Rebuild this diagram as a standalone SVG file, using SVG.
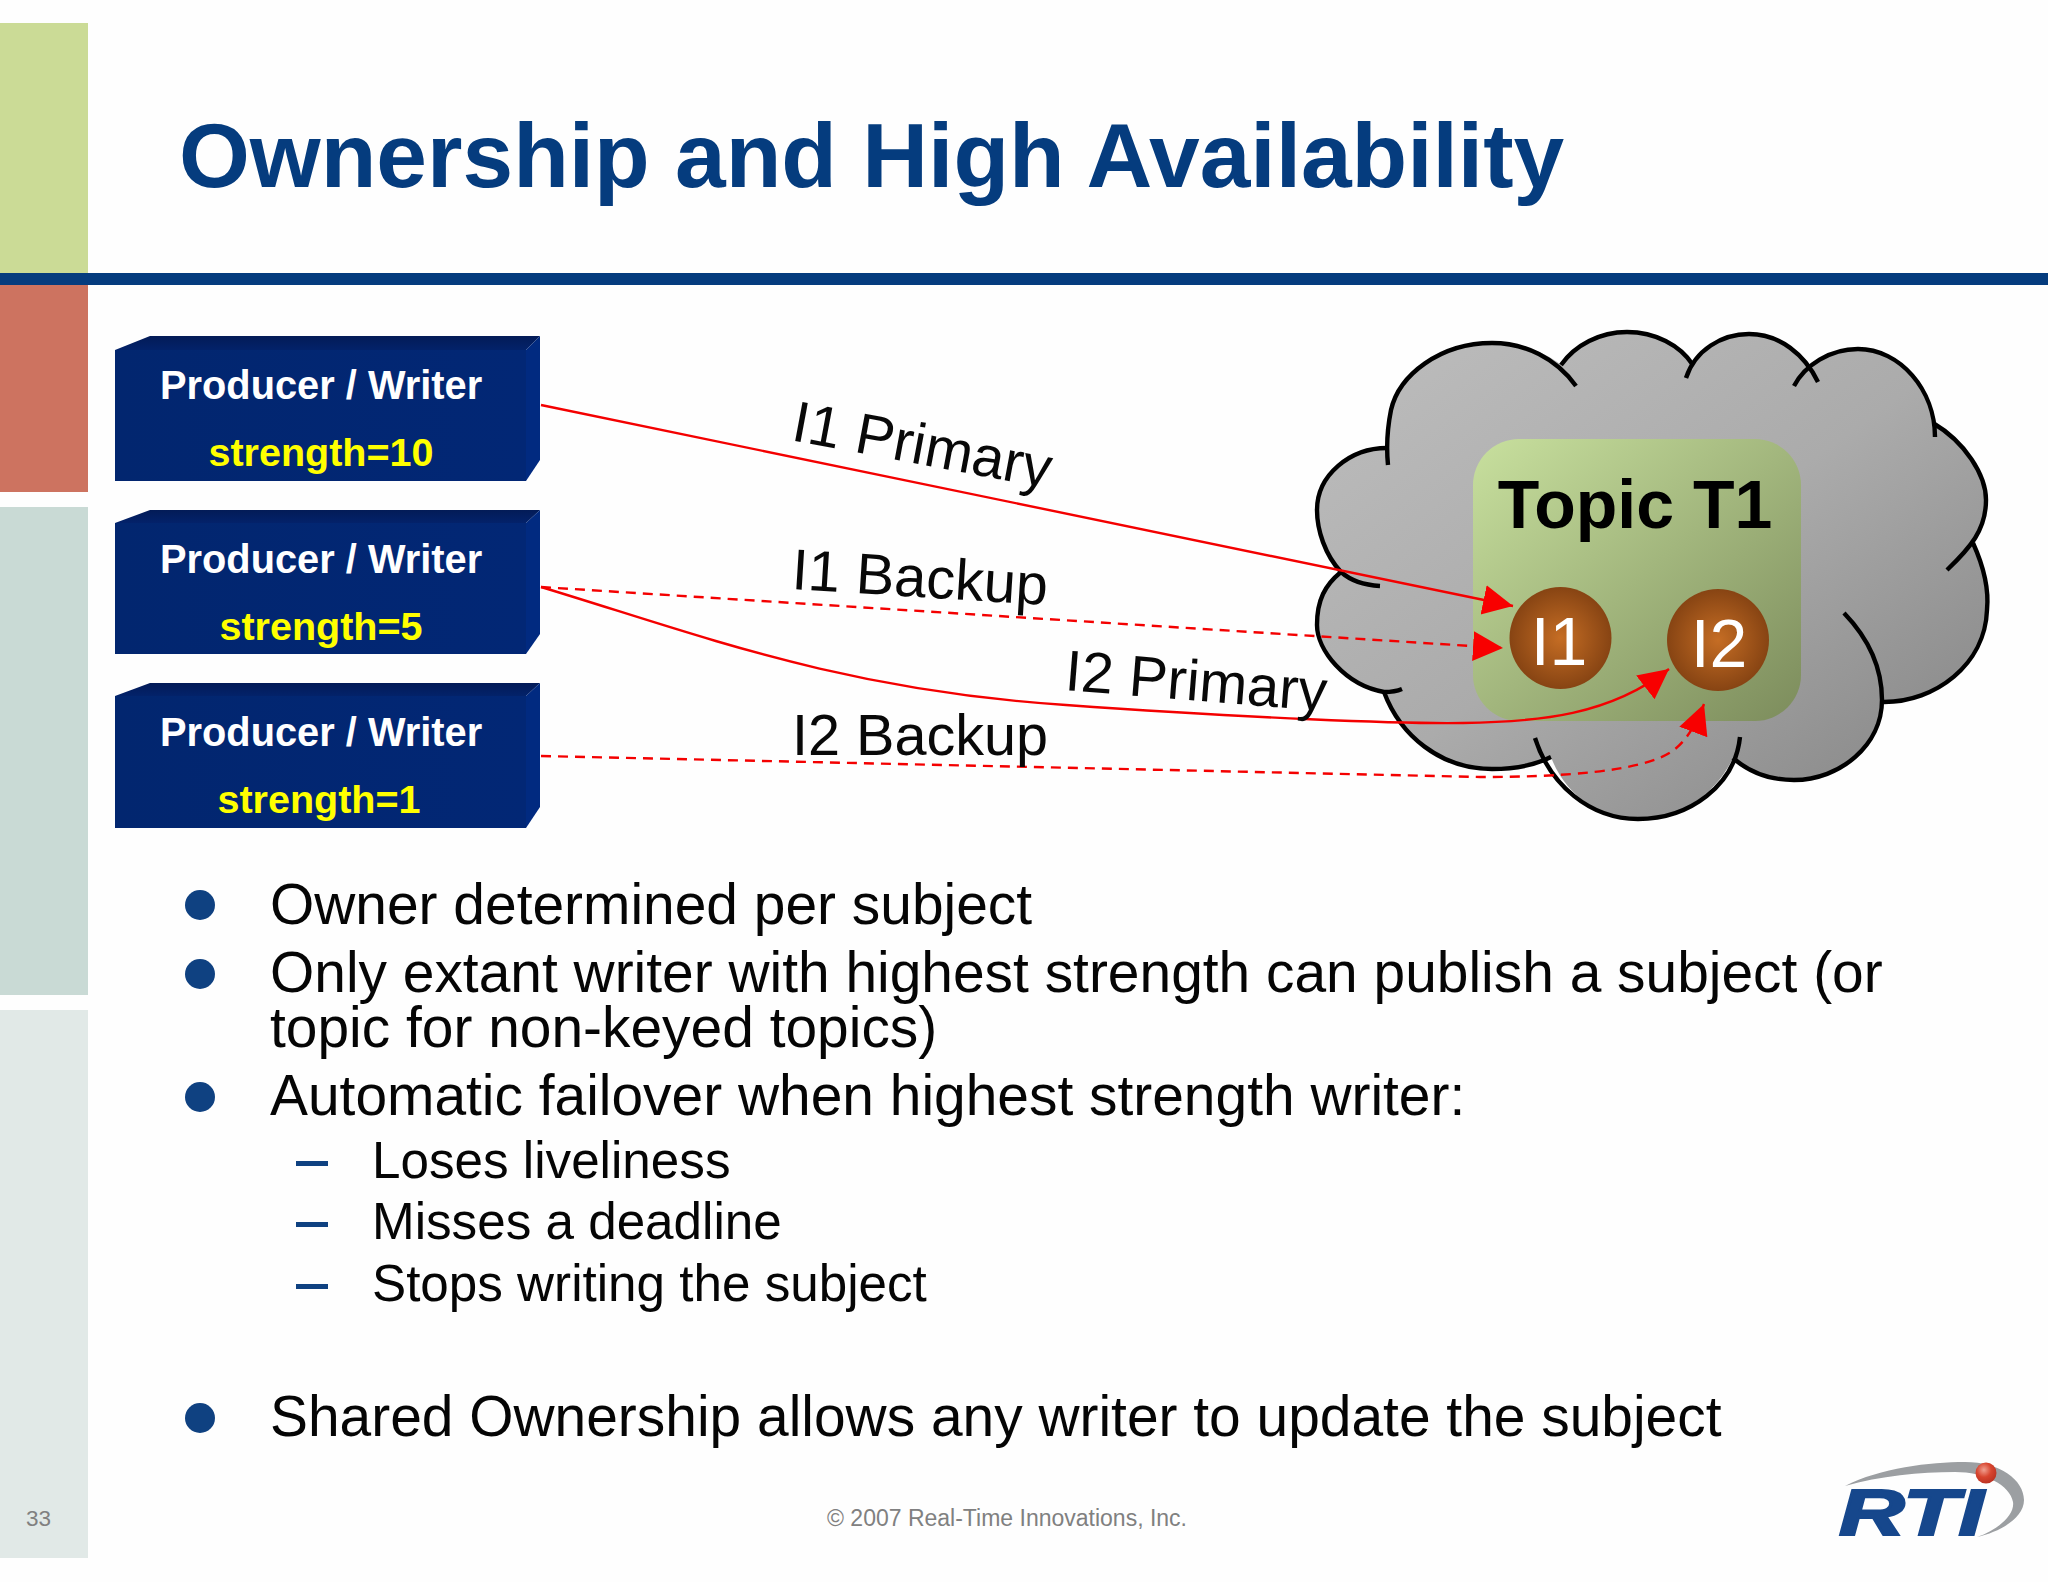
<svg xmlns="http://www.w3.org/2000/svg" width="2048" height="1582" viewBox="0 0 2048 1582">
<style>
text{font-family:"Liberation Sans",Arial,sans-serif}
.b{font-size:56.9px;fill:#050505}
.s{font-size:51.2px;fill:#050505}
.d{fill:#0f4181}
.lab{font-size:57.6px;fill:#080808}
.pw{font-size:39.8px;font-weight:700;fill:#fff}
.st{font-size:39.5px;font-weight:700;fill:#ffff00;text-anchor:middle}
.front{fill:url(#fr)}
.top{fill:url(#tp)}
.side{fill:#012a80}
.lobe{fill:none;stroke:#000;stroke-width:4.4;stroke-linecap:butt}
.con{fill:none;stroke:#f40000;stroke-width:2.4}
.dash{stroke-dasharray:10 7}
.inst{fill:url(#ball);}
.it{font-size:68px;fill:#fff;text-anchor:middle}
</style>
<defs>
<linearGradient id="fr" x1="0" y1="0" x2="1" y2="0"><stop offset="0" stop-color="#02266f"/><stop offset="1" stop-color="#022775"/></linearGradient>
<linearGradient id="tp" x1="0" y1="0" x2="0" y2="1"><stop offset="0" stop-color="#031b57"/><stop offset="1" stop-color="#03226a"/></linearGradient>
<linearGradient id="cloud" x1="0" y1="0" x2="1" y2="1"><stop offset="0" stop-color="#bebebe"/><stop offset="0.5" stop-color="#ababab"/><stop offset="1" stop-color="#828282"/></linearGradient>
<linearGradient id="topic" x1="0" y1="0" x2="1" y2="1"><stop offset="0" stop-color="#c8e09e"/><stop offset="1" stop-color="#7c8c5c"/></linearGradient>
<radialGradient id="ball"><stop offset="0" stop-color="#c56d24"/><stop offset="1" stop-color="#874413"/></radialGradient>
<radialGradient id="red" cx="0.4" cy="0.35" r="0.7"><stop offset="0" stop-color="#f0a090"/><stop offset="0.5" stop-color="#d8452f"/><stop offset="1" stop-color="#b83020"/></radialGradient>
<marker id="arrow" markerUnits="userSpaceOnUse" markerWidth="34" markerHeight="34" refX="30" refY="15" orient="auto"><path d="M0,0L30,15L0,30Z" fill="#f80000"/></marker>
</defs>
<rect width="2048" height="1582" fill="#fefefe"/>
<g id="sidebar">
<rect x="0" y="23" width="88" height="250" fill="#cbdb96"/>
<rect x="0" y="285" width="88" height="207" fill="#cd7360"/>
<rect x="0" y="507" width="88" height="488" fill="#c9dad5"/>
<rect x="0" y="1010" width="88" height="548" fill="#e1e9e7"/>
<rect x="0" y="273" width="2048" height="12" fill="#053c7e"/>
</g>
<text id="title" x="179" y="187" font-size="91.1" font-weight="700" fill="#053c7e">Ownership and High Availability</text>
<g id="cloud-node">
<path fill="url(#cloud)" d="M1387,448C1387,430 1387,425 1391,410C1399,375 1440,343 1492,343C1520,343 1545,352 1561,365C1575,345 1600,332 1627,332C1655,332 1680,345 1693,365C1705,347 1722,334 1749,334C1775,334 1795,345 1808,367C1820,355 1838,349 1858,349C1900,349 1933,385 1933,423C1965,442 1986,475 1986,500C1986,515 1982,530 1973,543C1983,565 1989,590 1987,610C1985,665 1935,702 1882,702C1882,745 1840,780 1794,780C1770,780 1750,773 1733,758C1715,795 1680,819 1638,819C1600,819 1565,795 1551,757C1535,765 1515,769 1492,769C1440,769 1400,735 1384,692C1345,685 1317,650 1317,625C1317,600 1325,585 1341,572C1325,555 1317,530 1317,510C1317,475 1350,448 1387,448Z"/>
<path class="lobe" d="M1388,465C1386,445 1387,430 1391,410C1399,375 1440,343 1492,343C1525,343 1556,358 1576,386"/>
<path class="lobe" d="M1561,365C1575,345 1600,332 1627,332C1655,332 1680,345 1693,365"/>
<path class="lobe" d="M1686,378C1695,350 1722,334 1749,334C1780,334 1805,355 1818,382"/>
<path class="lobe" d="M1794,386C1805,365 1830,349 1858,349C1900,349 1935,390 1935,437"/>
<path class="lobe" d="M1933,423C1965,442 1986,475 1986,500C1986,530 1970,548 1947,570"/>
<path class="lobe" d="M1973,543C1983,565 1989,590 1987,610C1985,665 1935,702 1884,702"/>
<path class="lobe" d="M1844,613C1870,640 1882,670 1882,700C1882,745 1840,780 1794,780C1770,780 1750,773 1733,758"/>
<path class="lobe" d="M1740,737C1735,785 1690,819 1638,819C1590,819 1550,785 1535,738"/>
<path class="lobe" d="M1551,757C1535,765 1515,769 1492,769C1440,769 1400,735 1384,692"/>
<path class="lobe" d="M1402,689C1395,692 1388,692 1384,692C1345,685 1317,650 1317,625C1317,600 1325,585 1341,572"/>
<path class="lobe" d="M1380,586C1362,585 1350,580 1341,572C1325,555 1317,530 1317,510C1317,475 1350,448 1387,448"/>
</g>
<g id="topic-t1">
<rect x="1473" y="439" width="328" height="282" rx="46" fill="url(#topic)"/>
<text x="1635" y="528" font-size="68" font-weight="700" fill="#000" text-anchor="middle">Topic T1</text>
</g>
<g id="i1"><ellipse class="inst" cx="1560.5" cy="638" rx="51" ry="51"/><text class="it" x="1559" y="665">I1</text></g>
<g id="i2"><ellipse class="inst" cx="1718" cy="640" rx="51" ry="51"/><text class="it" x="1719" y="667">I2</text></g>
<g id="producer-10">
<path class="top" d="M115,350L150,336H540L526,350Z"/><path class="side" d="M526,350L540,336V460L526,481Z"/><rect class="front" x="115" y="350" width="411" height="131"/>
<text class="pw" x="160" y="399">Producer / Writer</text><text class="st" x="321" y="466">strength=10</text>
</g>
<g id="producer-5">
<path class="top" d="M115,523L150,510H540L526,523Z"/><path class="side" d="M526,523L540,510V634L526,654Z"/><rect class="front" x="115" y="523" width="411" height="131"/>
<text class="pw" x="160" y="573">Producer / Writer</text><text class="st" x="321" y="640">strength=5</text>
</g>
<g id="producer-1">
<path class="top" d="M115,696L150,683H540L526,696Z"/><path class="side" d="M526,696L540,683V807L526,828Z"/><rect class="front" x="115" y="696" width="411" height="132"/>
<text class="pw" x="160" y="746">Producer / Writer</text><text class="st" x="319" y="813">strength=1</text>
</g>
<g id="connectors">
<path class="con" marker-end="url(#arrow)" d="M541,405L1513,606"/>
<path class="con dash" marker-end="url(#arrow)" d="M541,587L1503,648"/>
<path class="con" marker-end="url(#arrow)" d="M541,587C700,635 840,690 1066,705C1250,718 1400,724 1463,723C1540,722 1610,715 1669,669"/>
<path class="con dash" marker-end="url(#arrow)" d="M541,756L1480,777C1560,777 1640,772 1671,752C1685,743 1696,725 1704,704"/>
</g>
<g id="labels">
<text class="lab" transform="translate(790,440) rotate(10.6)">I1 Primary</text>
<text class="lab" transform="translate(791,589) rotate(3.6)">I1 Backup</text>
<text class="lab" transform="translate(1064,690) rotate(4.6)">I2 Primary</text>
<text class="lab" x="792" y="755">I2 Backup</text>
</g>
<g id="body">
<circle class="d" cx="200" cy="905" r="15"/><text class="b" x="270" y="924">Owner determined per subject</text>
<circle class="d" cx="200" cy="974" r="15"/><text class="b" x="270" y="992">Only extant writer with highest strength can publish a subject (or</text>
<text class="b" x="270" y="1047">topic for non-keyed topics)</text>
<circle class="d" cx="200" cy="1097" r="15"/><text class="b" x="270" y="1115">Automatic failover when highest strength writer:</text>
<rect class="d" x="296" y="1161" width="32" height="5"/><text class="s" x="372" y="1178">Loses liveliness</text>
<rect class="d" x="296" y="1222" width="32" height="5"/><text class="s" x="372" y="1239">Misses a deadline</text>
<rect class="d" x="296" y="1284" width="32" height="5"/><text class="s" x="372" y="1301">Stops writing the subject</text>
<circle class="d" cx="200" cy="1418" r="15"/><text class="b" x="270" y="1436">Shared Ownership allows any writer to update the subject</text>
</g>
<g id="footer">
<text x="26" y="1526" font-size="22.5" fill="#808080">33</text>
<text x="827" y="1526" font-size="23" fill="#808080">© 2007 Real-Time Innovations, Inc.</text>
</g>
<g id="logo">
<path fill="#9c9fa2" d="M1845,1486C1880,1468 1930,1462 1965,1462C2000,1462 2024,1480 2024,1500C2024,1518 2000,1532 1977,1537C1998,1530 2015,1515 2013,1502C2010,1485 1985,1472 1955,1472C1920,1472 1880,1476 1845,1486Z"/>
<circle cx="1986" cy="1473" r="10.5" fill="url(#red)"/>
<text transform="translate(1839,1535) scale(1.42,1)" font-size="64" font-weight="700" font-style="italic" fill="#16478c" stroke="#16478c" stroke-width="2.2">RTI</text>
</g>
</svg>
